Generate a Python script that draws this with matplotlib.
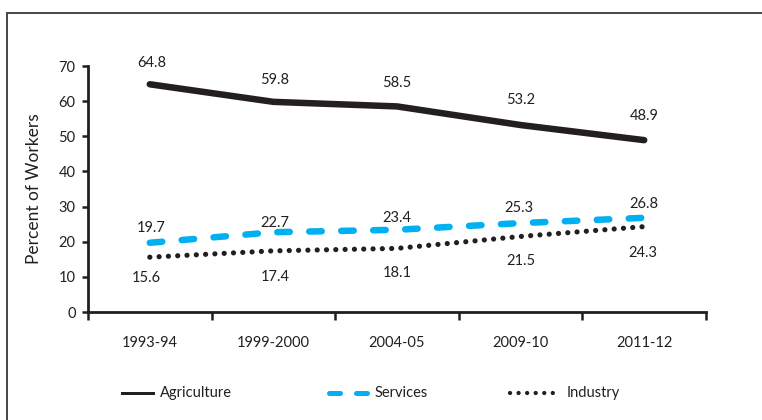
import matplotlib
matplotlib.use("Agg")
import matplotlib.pyplot as plt
from matplotlib.lines import Line2D

plt.rcParams['font.family'] = ['Lato', 'DejaVu Sans']

categories = ["1993-94", "1999-2000", "2004-05", "2009-10", "2011-12"]
agriculture = [64.8, 59.8, 58.5, 53.2, 48.9]
services = [19.7, 22.7, 23.4, 25.3, 26.8]
industry = [15.6, 17.4, 18.1, 21.5, 24.3]
yticks = [0, 10, 20, 30, 40, 50, 60, 70]

W, H = 762, 420
fig = plt.figure(figsize=(W / 100, H / 100), dpi=100)
ax = fig.add_axes([88 / W, 1 - 312 / H, (706 - 88) / W, (312 - 66) / H])

x = list(range(len(categories)))
px2pt = 72 / 100
DARK = "#231f20"
BLUE = "#00b0f0"

la, = ax.plot(x, agriculture, color=DARK, lw=6.5 * px2pt, solid_capstyle="round",
              solid_joinstyle="round", label="Agriculture")
ls, = ax.plot(x, services, color=BLUE, lw=6.5 * px2pt, dash_capstyle="round",
              dashes=(1.92, 3.0), label="Services")
li, = ax.plot(x, industry, color=DARK, lw=5.2 * px2pt, dash_capstyle="round",
              dashes=(0.01, 1.78), label="Industry")

agri_off = [21, 22, 23, 25, 24]
serv_off = [14.5, 9, 12, 14.7, 14]
ind_off = [-21, -26, -25, -25, -26]
serv_dx = [1, 1, 0, -2, 0]
ind_dx = [-3, 2, 0, 0, -1]
agri_dx = [2, 1, 0, 0, 0]

def label(xi, v, dx, dy):
    ax.annotate(f"{v}", (xi, v), xytext=(dx * px2pt, dy * px2pt), textcoords="offset points",
                ha="center", va="center", fontsize=10.5, color=DARK)

for i, v in enumerate(agriculture):
    label(x[i], v, agri_dx[i], agri_off[i])
for i, v in enumerate(services):
    label(x[i], v, serv_dx[i], serv_off[i])
for i, v in enumerate(industry):
    label(x[i], v, ind_dx[i], ind_off[i])

ax.set_xlim(-0.5, len(categories) - 0.5)
ax.set_ylim(0, 70)
ax.set_yticks(yticks)
ax.set_yticklabels([str(t) for t in yticks])
ax.set_xticks([i - 0.5 for i in range(len(categories) + 1)])
ax.set_xticklabels([])
ax.set_xticks(x, minor=True)
ax.set_xticklabels(categories, minor=True)
ax.tick_params(axis="x", which="major", length=6, width=1.8, color=DARK, direction="out")
ax.tick_params(axis="x", which="minor", length=0, pad=17, labelsize=10.5, labelcolor=DARK)
ax.tick_params(axis="y", length=4, width=1.8, color=DARK, direction="out", pad=5,
               labelsize=10.5, labelcolor=DARK)
for s in ["top", "right"]:
    ax.spines[s].set_visible(False)
for s in ["left", "bottom"]:
    ax.spines[s].set_linewidth(2)
    ax.spines[s].set_color(DARK)
ax.set_ylabel("Percent of Workers", fontsize=12.5, color=DARK, labelpad=12)

# legend (drawn manually to match the original spacing)
ly = 1 - 393 / H
fig.add_artist(Line2D([122 / W, 153 / W], [ly, ly], transform=fig.transFigure,
                      color=DARK, lw=3 * px2pt))
fig.text(160 / W, ly, la.get_label(), ha="left", va="center", fontsize=10.5, color=DARK)
fig.add_artist(Line2D([328.5 / W, 366.5 / W], [ly, ly], transform=fig.transFigure,
                      color=BLUE, lw=5 * px2pt, dash_capstyle="round", dashes=(2.2, 3.2)))
fig.text(375 / W, ly, ls.get_label(), ha="left", va="center", fontsize=10.5, color=DARK)
fig.add_artist(Line2D([510 / W, 561 / W], [ly, ly], transform=fig.transFigure,
                      color=DARK, lw=4.3 * px2pt, dash_capstyle="round", dashes=(0.01, 1.98)))
fig.text(567 / W, ly, li.get_label(), ha="left", va="center", fontsize=10.5, color=DARK)

fig.add_artist(Line2D([6.5 / W, 6.5 / W], [0, 1 - 12.5 / H], transform=fig.transFigure,
                      color="#4a4a4a", lw=2 * px2pt))
fig.add_artist(Line2D([6.5 / W, 1], [1 - 12.5 / H, 1 - 12.5 / H], transform=fig.transFigure,
                      color="#4a4a4a", lw=2 * px2pt))

fig.savefig("out.png", dpi=100)
